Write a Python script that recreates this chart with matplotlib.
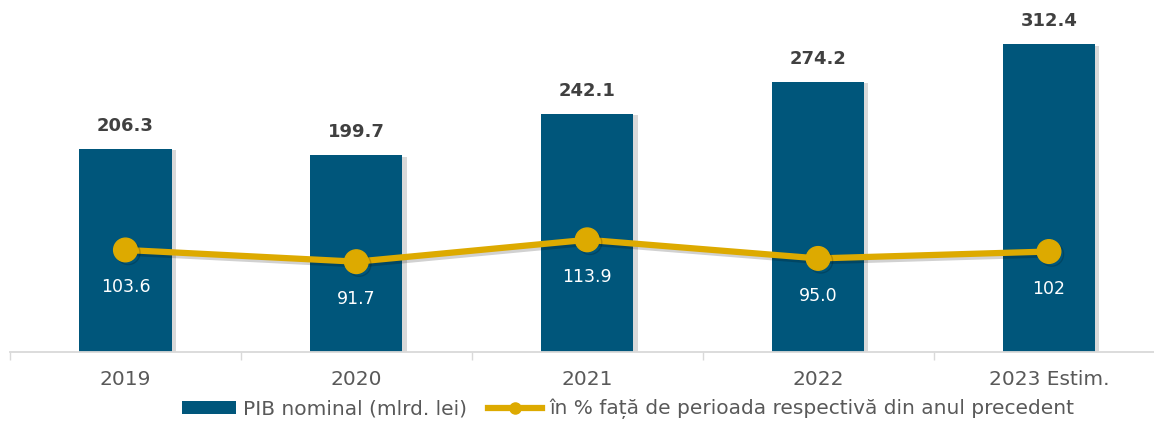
import matplotlib
matplotlib.use("Agg")
import matplotlib.pyplot as plt
import matplotlib.patheffects as pe
from matplotlib.lines import Line2D
from matplotlib.patches import Patch

categories = ["2019", "2020", "2021", "2022", "2023 Estim."]
pib_nominal = [206.3, 199.7, 242.1, 274.2, 312.4]
pib_pct = [103.6, 91.7, 113.9, 95.0, 102.0]
pct_labels = ["103.6", "91.7", "113.9", "95.0", "102"]

BAR_COLOR = "#00567B"
LINE_COLOR = "#DDAA00"
TXT = "#595959"

plt.rcParams["font.family"] = ["DejaVu Sans"]

W, H = 1154, 421
fig = plt.figure(figsize=(W / 100, H / 100), dpi=100)
ax = fig.add_axes([10 / W, (H - 352) / H, (W - 10) / W, 352 / H])

x = list(range(len(categories)))
shadow = [pe.SimplePatchShadow(offset=(3, -1), shadow_rgbFace="#000000", alpha=0.15), pe.Normal()]
bars = ax.bar(x, pib_nominal, width=0.4, color=BAR_COLOR, zorder=2)
for b in bars:
    b.set_path_effects(shadow)

line_shadow = [pe.SimpleLineShadow(offset=(2, -2), shadow_color="#000000", alpha=0.18), pe.Normal()]
ax.plot(x, pib_pct, color=LINE_COLOR, lw=4.5, marker="o", ms=17, zorder=3,
        path_effects=line_shadow)

for xi, v in zip(x, pib_nominal):
    ax.annotate(f"{v:.1f}", (xi, v), xytext=(0, 10), textcoords="offset points",
                ha="center", va="bottom", fontsize=13, fontweight="bold", color="#404040")
for xi, v, lab in zip(x, pib_pct, pct_labels):
    ax.annotate(lab, (xi, v), xytext=(0, -27), textcoords="offset points",
                ha="center", va="center", fontsize=12.5, color="white", zorder=4)

ax.set_xticks(x)
ax.set_xticklabels(categories, fontsize=14.5, color=TXT)
ax.tick_params(axis="x", which="major", length=0, pad=13)
ax.set_xticks([i - 0.5 for i in range(len(categories) + 1)], minor=True)
ax.tick_params(axis="x", which="minor", length=6, color="#D9D9D9", width=1)
ax.set_xlim(-0.5, (W - 126) / 230.75)
ax.set_ylim(0, 352 / 0.985)
ax.set_yticks([])
for s in ["top", "right", "left"]:
    ax.spines[s].set_visible(False)
ax.spines["bottom"].set_color("#D9D9D9")
ax.spines["bottom"].set_linewidth(1.3)

handles = [
    Patch(facecolor=BAR_COLOR, edgecolor="none", label="PIB nominal (mlrd. lei)"),
    Line2D([0], [0], color=LINE_COLOR, lw=4.5, marker="o", ms=8,
           label="în % față de perioada respectivă din anul precedent"),
]
fig.legend(handles=handles, loc="center", bbox_to_anchor=(628 / W, (H - 409) / H),
           ncol=2, frameon=False, fontsize=14.5, handlelength=2.7, handleheight=0.6,
           columnspacing=1.0, handletextpad=0.35, labelcolor=TXT)

fig.savefig("out.png", dpi=100)
